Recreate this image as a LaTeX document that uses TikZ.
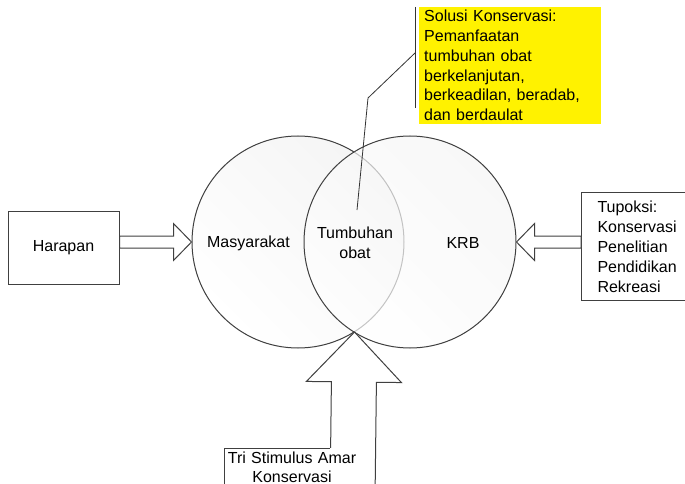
\documentclass[tikz,border=0pt]{standalone}
\usepackage{fontspec}
\setmainfont{Liberation Sans}
\usetikzlibrary{calc}

\begin{document}
\begin{tikzpicture}[x=1pt, y=-1pt,
	every node/.style={font=\fontsize{16}{20}\selectfont},
	ring/.style={circle, draw=black!75, line width=1pt, minimum size=212pt, inner sep=0pt,
		left color=white, right color=black!4, shading angle=135},
	box/.style={draw=black!75, line width=1pt},
	ba shaft/.store in=\bashaft, ba head/.store in=\bahead, ba len/.store in=\balen,
	ba shaft=6pt, ba head=18.5pt, ba len=18pt,
	blockarrow/.style={draw=black!75, fill=white, line width=1pt, to path={
		coordinate (ba) at ($(\tikztotarget)!\balen!(\tikztostart)$)
		($(\tikztostart)!\bashaft!90:(\tikztotarget)$)
		-- ($(ba)!\bashaft!90:(\tikztotarget)$)
		-- ($(ba)!\bahead!90:(\tikztotarget)$)
		-- (\tikztotarget)
		-- ($(ba)!\bahead!-90:(\tikztotarget)$)
		-- ($(ba)!\bashaft!-90:(\tikztotarget)$)
		-- ($(\tikztostart)!\bashaft!-90:(\tikztotarget)$)
		-- cycle}}]
	\useasboundingbox (0,0) rectangle (685,484);
	\node[ring] (masy) at (298,242){};
	\node[ring, fill opacity=0.7, draw opacity=1] (krb) at (410,242){};
	\node (masyt) at (248.5,243){Masyarakat};
	\node[align=center] (tumbuhan) at (355,243){Tumbuhan\\obat};
	\node (krbt) at (463,243){KRB};
	\node[box, minimum width=111pt, minimum height=73pt] (harapan) at (63.5,247.5){Harapan};
	\node[box, anchor=north west, text width=84pt, inner xsep=16pt, inner ysep=8pt, align=left] (tupoksi) at (581,192){Tupoksi:\\Konservasi\\Penelitian\\Pendidikan\\Rekreasi};
	\draw[blockarrow] (harapan.east |- masy.west) to (masy.west);
	\draw[blockarrow] (tupoksi.west |- krb.east) to (krb.east);
	\coordinate (meet) at (354.5,332);
	\coordinate (tribase) at (352.5,500);
	\coordinate (shaftl) at (330,500);
	\draw[blockarrow, ba shaft=22.5pt, ba head=47.5pt, ba len=50pt] (tribase) to (meet);
	\node[fill=white, anchor=north, text width=134pt, inner xsep=0pt, inner ysep=3.5pt, align=center, font=\fontsize{16}{19}\selectfont] (tri) at (292,448){Tri Stimulus Amar\\Konservasi};
	\draw[box] (tri.south west) -- (tri.north west) -- (tri.north west -| shaftl);
	\node[fill=yellow, anchor=north west, text width=172pt, inner xsep=5pt, inner ysep=3pt, align=left, font=\fontsize{16}{19.8}\selectfont] (solusi) at (419,7){Solusi Konservasi:\\Pemanfaatan\\tumbuhan obat\\berkelanjutan,\\berkeadilan, beradab,\\dan berdaulat};
	\coordinate (brtop) at (415,7);
	\coordinate (brbot) at (415,108);
	\coordinate (brmid) at (415,53);
	\coordinate (bend) at (368,98);
	\coordinate (ptr) at (357,210);
	\draw[black!80, line width=0.8pt] (brtop) -- (brbot);
	\draw[black!80, line width=0.8pt] (brmid) -- (bend) -- (ptr);
\end{tikzpicture}
\end{document}
